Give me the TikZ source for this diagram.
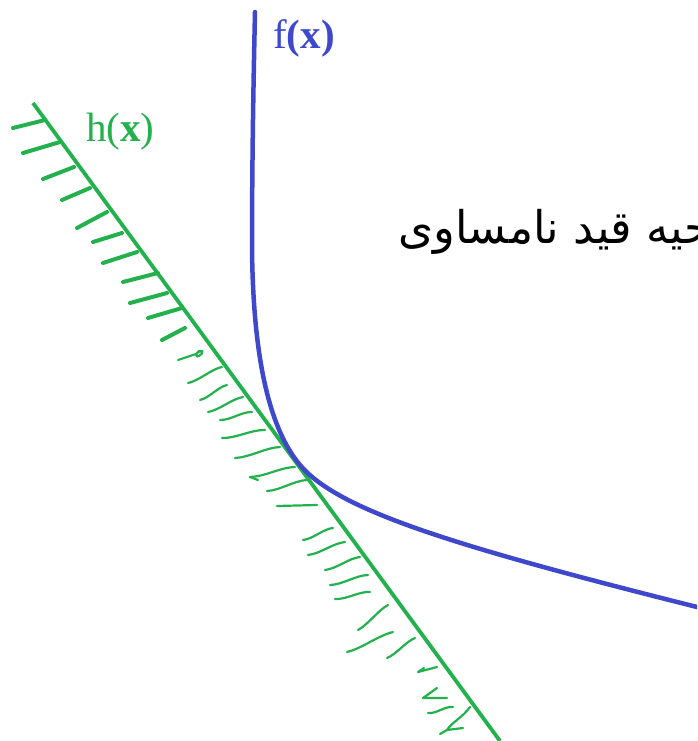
\documentclass[tikz,border=0pt]{standalone}
\usepackage{fontspec}
\setmainfont{Liberation Serif}
\newfontfamily\arabicfont[Script=Arabic]{DejaVu Sans}
\TeXXeTstate=1
\usetikzlibrary{calc}
\definecolor{cblue}{HTML}{3F48CC}
\definecolor{cgreen}{HTML}{22B14C}
\tikzset{
  curveline/.style={draw=cblue, line width=4.5pt, line cap=round},
  boundline/.style={draw=cgreen, line width=3.8pt},
  thickhatch/.style={draw=cgreen, line width=4pt, line cap=round},
  thinhatch/.style={draw=cgreen, line width=2.2pt, line cap=round, line join=round},
  lbl/.style={inner sep=0pt, font=\fontsize{41}{41}\selectfont},
}
\newcommand\hatchw[4]{\draw[thinhatch] (#1,#2) .. controls ($(#1,#2)!0.33!(#3,#4)+(0,-3)$) and ($(#1,#2)!0.66!(#3,#4)+(0,3)$) .. (#3,#4);}
\begin{document}
\begin{tikzpicture}[x=1pt,y=-1pt]
\useasboundingbox (0,0) rectangle (697,741);
\clip (0,0) rectangle (697,741);
% constraint boundary h(x)
\coordinate (htop) at (33,103);
\coordinate (hbot) at (500,741);
% thick hatch ticks
\foreach \ax/\ay/\bx/\by in {45/120/13/128, 60/142/23/153, 74/167/43/179, 90/188/62/200,
  107/212/77/228, 122/233/93/242, 137/252/103/263, 158/273/123/282, 167/293/130/303,
  182/308/148/318, 185/328/162/340}
  \draw[thickhatch] (\ax,\ay) -- (\bx,\by);
% thin wavy hatches
\draw[thinhatch] (178,360) -- (196,354) .. controls (203,348) and (205,352) .. (199,356) .. controls (196,358) and (195,354) .. (199,351);
\hatchw{222}{367}{188}{383}
\hatchw{227}{385}{200}{400}
\hatchw{243}{397}{208}{412}
\hatchw{252}{412}{220}{420}
\hatchw{265}{430}{222}{438}
\hatchw{280}{447}{235}{458}
\hatchw{295}{467}{250}{477}
\draw[thinhatch] (250,477) -- (258,480);
\hatchw{307}{480}{267}{491}
\draw[thinhatch] (317,505) -- (277,506);
\hatchw{333}{528}{303}{540}
\hatchw{345}{542}{308}{555}
\hatchw{360}{557}{325}{570}
\hatchw{368}{575}{330}{585}
\hatchw{370}{592}{335}{599}
\hatchw{388}{605}{358}{630}
\hatchw{393}{632}{347}{652}
\hatchw{415}{638}{387}{658}
\draw[thinhatch] (437,667) -- (418,672) -- (424,668);
\draw[thinhatch] (437,688) -- (423,698) -- (447,698);
\hatchw{453}{707}{428}{713}
\draw[thinhatch] (470,707) .. controls (462,718) and (452,722) .. (447,730) -- (463,728);
\draw[thinhatch] (447,730) -- (440,734);
\draw[boundline] (htop) -- (hbot);
% objective contour f(x)
\coordinate (ftop) at (255,12);
\coordinate (fa) at (252,250);
\coordinate (fknee) at (300,465);
\coordinate (fend) at (697,607);
\draw[curveline] (ftop) .. controls (253,100) and (252,180) .. (fa)
  .. controls (253,330) and (262,420) .. (fknee)
  .. controls (338,510) and (450,545) .. (fend);
% labels
\node[lbl, text=cblue, anchor=base west] (flbl) at (273,49) {f\textbf{(x)}};
\node[lbl, text=cgreen, anchor=base west] (hlbl) at (86,141) {h(\textbf{x})};
\node[inner sep=0pt, anchor=base west, font=\fontsize{45}{45}\selectfont] (region) at (398,243) {\arabicfont\beginR ناحیه قید نامساوی\endR};
\end{tikzpicture}
\end{document}
